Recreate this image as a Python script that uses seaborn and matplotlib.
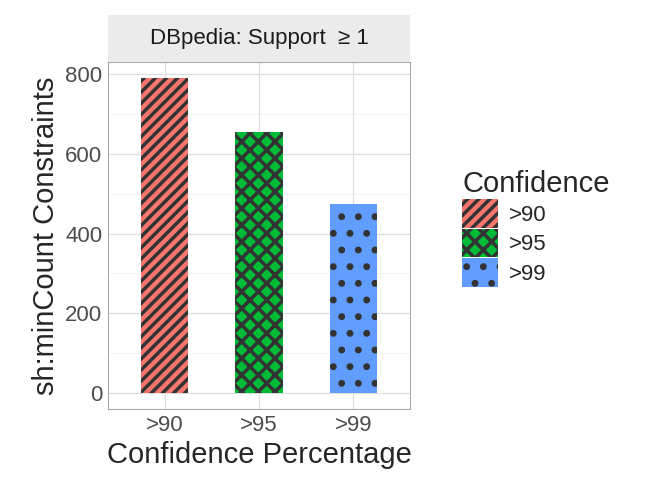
import matplotlib
matplotlib.use("Agg")
import matplotlib.pyplot as plt
import matplotlib.patches as mpatches
import pandas as pd
import seaborn as sns

categories = [">90", ">95", ">99"]
values = [790, 655, 473]
colors = ["#F8766D", "#00BA38", "#619CFF"]
hatches = ["///", "xx", "."]

sns.set_style("whitegrid")
plt.rcParams["font.family"] = ["Arial", "Liberation Sans", "DejaVu Sans"]
plt.rcParams["hatch.linewidth"] = 2.5

df = pd.DataFrame({"conf": categories, "count": values})

fig = plt.figure(figsize=(6.5, 5), dpi=100)
ax = fig.add_axes([0.166, 0.182, 0.465, 0.694])
sns.barplot(data=df, x="conf", y="count", hue="conf", palette=colors,
            width=0.5, legend=False, ax=ax, saturation=1)
for bar, h in zip(ax.patches, hatches):
    bar.set_hatch(h)
    bar.set_edgecolor("#333333")
    bar.set_linewidth(0)

ax.set_ylim(-39.5, 829.5)
ax.set_xlim(-0.6, 2.6)
ax.set_yticks([0, 200, 400, 600, 800])
ax.set_yticks([100, 300, 500, 700], minor=True)
ax.grid(True, which="major", color="#DDDDDD", lw=0.9)
ax.grid(True, which="minor", axis="y", color="#EEEEEE", lw=0.5)
ax.tick_params(axis="both", labelsize=16, colors="#4D4D4D", length=0, pad=4)
for s in ax.spines.values():
    s.set_color("#AAAAAA")
    s.set_linewidth(0.8)
ax.set_xlabel("Confidence Percentage", fontsize=21)
ax.set_ylabel("sh:minCount Constraints", fontsize=21)

strip = fig.add_axes([0.166, 0.876, 0.465, 0.094])
strip.set_facecolor("#EBEBEB")
strip.set_xticks([])
strip.set_yticks([])
for s in strip.spines.values():
    s.set_visible(False)
strip.text(0.5, 0.5, "DBpedia: Support  \u2265 1", ha="center", va="center", fontsize=16, color="#1A1A1A")

handles = [mpatches.Patch(facecolor=c, hatch=h, edgecolor="#333333", linewidth=0, label=l)
           for c, h, l in zip(colors, hatches, categories)]
leg = fig.legend(handles=handles, title="Confidence", loc="upper left",
                 bbox_to_anchor=(0.68, 0.70), frameon=False, fontsize=16,
                 title_fontsize=21, handlelength=1.6, handleheight=1.6,
                 labelspacing=0.05, handletextpad=0.5)
leg._legend_box.align = "left"

fig.savefig("out.png", dpi=100)
